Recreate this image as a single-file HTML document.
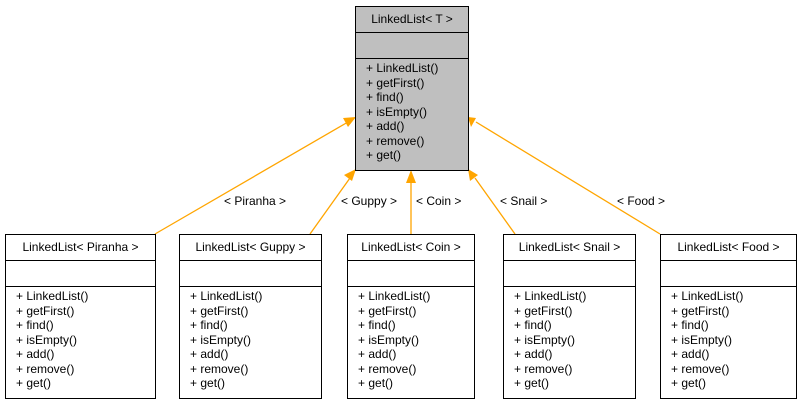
<!DOCTYPE html>
<html><head><style>
body{margin:0;width:801px;height:404px;background:#fff;position:relative;font-family:"Liberation Sans",Arial,sans-serif;font-size:12px;overflow:hidden}
.b{position:absolute;border:1px solid #000;background:#fff;box-sizing:border-box}
.b .t{height:25px;border-bottom:1px solid #000;text-align:center;line-height:25px}
.b .e{height:25px;border-bottom:1px solid #000}
.b .m{padding:2px 0 0 10px;line-height:14.5px}
.g{background:#bfbfbf}
svg{position:absolute;left:0;top:0}
.l{position:absolute;font-size:12px;white-space:nowrap}
</style></head><body>
<svg width="801" height="404">
<g stroke="#ffa500" stroke-width="1.3" fill="none">
<line x1="155" y1="234" x2="348" y2="122"/>
<line x1="310" y1="234" x2="350" y2="178"/>
<line x1="411" y1="234" x2="411" y2="180"/>
<line x1="515" y1="234" x2="475" y2="178"/>
<line x1="660" y1="234" x2="476" y2="122"/>
</g>
<g fill="#ffa500">
<polygon points="356,117 343,118 348,127"/>
<polygon points="356,169 344,175 352,181"/>
<polygon points="411,170 406,183 416,183"/>
<polygon points="468,169 470,181 478,175"/>
<polygon points="468,117 471,127 476,118"/>
</g>
</svg>
<div class="b g" style="left:355px;top:6px;width:114px;height:165px"><div class="t">LinkedList&lt; T &gt;</div><div class="e"></div><div class="m">+ LinkedList()<br>+ getFirst()<br>+ find()<br>+ isEmpty()<br>+ add()<br>+ remove()<br>+ get()</div></div>
<div class="b" style="left:5px;top:234px;width:151px;height:165px"><div class="t">LinkedList&lt; Piranha &gt;</div><div class="e"></div><div class="m">+ LinkedList()<br>+ getFirst()<br>+ find()<br>+ isEmpty()<br>+ add()<br>+ remove()<br>+ get()</div></div>
<div class="b" style="left:179px;top:234px;width:143px;height:165px"><div class="t">LinkedList&lt; Guppy &gt;</div><div class="e"></div><div class="m">+ LinkedList()<br>+ getFirst()<br>+ find()<br>+ isEmpty()<br>+ add()<br>+ remove()<br>+ get()</div></div>
<div class="b" style="left:347px;top:234px;width:128px;height:165px"><div class="t">LinkedList&lt; Coin &gt;</div><div class="e"></div><div class="m">+ LinkedList()<br>+ getFirst()<br>+ find()<br>+ isEmpty()<br>+ add()<br>+ remove()<br>+ get()</div></div>
<div class="b" style="left:503px;top:234px;width:133px;height:165px"><div class="t">LinkedList&lt; Snail &gt;</div><div class="e"></div><div class="m">+ LinkedList()<br>+ getFirst()<br>+ find()<br>+ isEmpty()<br>+ add()<br>+ remove()<br>+ get()</div></div>
<div class="b" style="left:660px;top:234px;width:137px;height:165px"><div class="t">LinkedList&lt; Food &gt;</div><div class="e"></div><div class="m">+ LinkedList()<br>+ getFirst()<br>+ find()<br>+ isEmpty()<br>+ add()<br>+ remove()<br>+ get()</div></div>
<div class="l" style="left:224px;top:194px">&lt; Piranha &gt;</div>
<div class="l" style="left:341px;top:194px">&lt; Guppy &gt;</div>
<div class="l" style="left:416px;top:194px">&lt; Coin &gt;</div>
<div class="l" style="left:500px;top:194px">&lt; Snail &gt;</div>
<div class="l" style="left:617px;top:194px">&lt; Food &gt;</div>
</body></html>
